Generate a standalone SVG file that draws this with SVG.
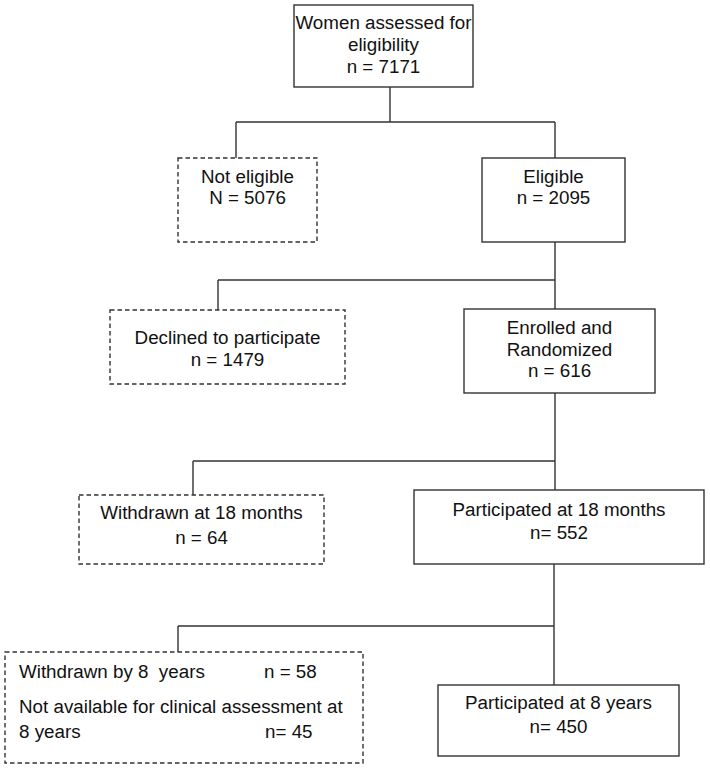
<svg xmlns="http://www.w3.org/2000/svg" width="710" height="769" viewBox="0 0 710 769">
<style>
  .box { fill: #fff; stroke: #333; stroke-width: 1.4; }
  .dash { fill: #fff; stroke: #333; stroke-width: 1.4; stroke-dasharray: 4.5 3; }
  .ln { fill: none; stroke: #333; stroke-width: 1.4; }
  text { font-family: "Liberation Sans", Arial, sans-serif; font-size: 18.8px; fill: #111; }
  .c { text-anchor: middle; }
</style>
<rect width="710" height="769" fill="#fff"/>
<g id="connectors">
  <path class="ln" d="M390 87 V122 M236 122 H555 M236 122 V158 M555 122 V158"/>
  <path class="ln" d="M555 242 V309 M218 280 H555 M218 280 V310"/>
  <path class="ln" d="M555 393 V490 M193 461 H555 M193 461 V495"/>
  <path class="ln" d="M554 564 V685 M178 626 H554 M178 626 V652"/>
</g>
<g id="assessed">
  <rect class="box" x="294" y="5" width="179" height="82"/>
  <text class="c" x="383.5" y="29">Women assessed for</text>
  <text class="c" x="383.5" y="51">eligibility</text>
  <text class="c" x="383.5" y="73">n = 7171</text>
</g>
<g id="not-eligible">
  <rect class="dash" x="178" y="158" width="139" height="84"/>
  <text class="c" x="247.5" y="183">Not eligible</text>
  <text class="c" x="247.5" y="204">N = 5076</text>
</g>
<g id="eligible">
  <rect class="box" x="482" y="158" width="143" height="84"/>
  <text class="c" x="553.5" y="183">Eligible</text>
  <text class="c" x="553.5" y="204">n = 2095</text>
</g>
<g id="declined">
  <rect class="dash" x="110" y="310" width="235" height="74"/>
  <text class="c" x="227.5" y="344">Declined to participate</text>
  <text class="c" x="227.5" y="366">n = 1479</text>
</g>
<g id="enrolled">
  <rect class="box" x="464" y="309" width="191" height="84"/>
  <text class="c" x="559.5" y="334">Enrolled and</text>
  <text class="c" x="559.5" y="356">Randomized</text>
  <text class="c" x="559.5" y="377">n = 616</text>
</g>
<g id="withdrawn-18">
  <rect class="dash" x="79" y="495" width="245" height="69"/>
  <text class="c" x="201.5" y="519">Withdrawn at 18 months</text>
  <text class="c" x="201.5" y="544">n = 64</text>
</g>
<g id="participated-18">
  <rect class="box" x="414" y="490" width="290" height="74"/>
  <text class="c" x="559" y="516">Participated at 18 months</text>
  <text class="c" x="559" y="539">n= 552</text>
</g>
<g id="withdrawn-8">
  <rect class="dash" x="5" y="652" width="358" height="111"/>
  <text x="19" y="678" xml:space="preserve">Withdrawn by 8  years</text>
  <text x="264" y="678">n = 58</text>
  <text x="19" y="713">Not available for clinical assessment at</text>
  <text x="19" y="738">8 years</text>
  <text x="265" y="738">n= 45</text>
</g>
<g id="participated-8">
  <rect class="box" x="438" y="685" width="241" height="71"/>
  <text class="c" x="558.5" y="709">Participated at 8 years</text>
  <text class="c" x="558.5" y="733">n= 450</text>
</g>
</svg>
